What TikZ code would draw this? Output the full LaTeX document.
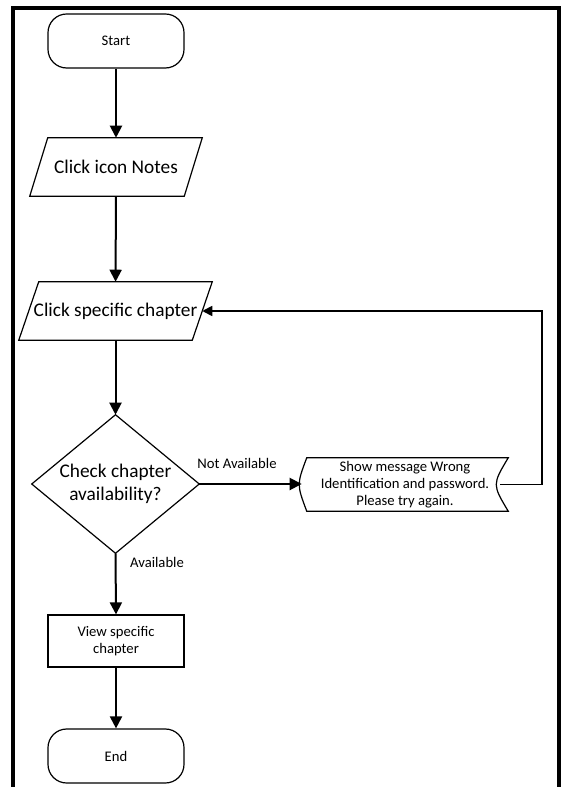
\documentclass[tikz,border=0pt]{standalone}
\usepackage{fontspec}
\setmainfont{Carlito}
\usetikzlibrary{arrows.meta}
\begin{document}
\begin{tikzpicture}[x=0.75pt,y=-0.75pt,
  outline/.style={draw=black, line width=0.9pt},
  box/.style={inner sep=0pt, align=center, font=\fontsize{11}{13}\selectfont},
  bigtext/.style={font=\fontsize{14.5}{17.2}\selectfont},
  terminal/.style={box, outline, rounded corners=14pt, minimum width=102pt, minimum height=40.5pt},
  flow/.style={line width=1.5pt, line join=miter, -{Triangle[length=9pt,width=9pt]}},
  backflow/.style={line width=1.3pt, line join=miter, -{Triangle[length=7.5pt,width=7.5pt]}},
  lbl/.style={font=\fontsize{11}{13}\selectfont, inner sep=0pt},
  ]
\useasboundingbox (0,0) rectangle (561,787);

% page frame, open at the bottom
\draw[line width=3pt, line join=miter] (13,792) -- (13,8.5) -- (559,8.5) -- (559,792);

% terminals
\node[terminal] (start) at (116,41) {Start};
\node[terminal] (end) at (116,756) {End};

% input: click icon Notes
\node[box, bigtext, minimum width=115.5pt, minimum height=43.5pt] (notes) at (116,167) {Click icon Notes};
\draw[outline] ([xshift=-6.75pt]notes.south west) -- ([xshift=6.75pt]notes.north west)
  -- ([xshift=6.75pt]notes.north east) -- ([xshift=-6.75pt]notes.south east) -- cycle;

% input: click specific chapter
\node[box, bigtext, minimum width=129.75pt, minimum height=43.5pt] (chapter) at (115.5,311) {Click specific chapter};
\draw[outline] ([xshift=-7.5pt]chapter.south west) -- ([xshift=7.5pt]chapter.north west)
  -- ([xshift=7.5pt]chapter.north east) -- ([xshift=-7.5pt]chapter.south east) -- cycle;

% decision
\node[box, bigtext, minimum width=125.25pt, minimum height=103.5pt] (check) at (115.5,484) {Check chapter\\availability?};
\draw[outline] (check.north) -- (check.east) -- (check.south) -- (check.west) -- cycle;

% display: error message
\node[box, minimum width=154.5pt, minimum height=39.75pt] (msg) at (405,484.5)
  {Show message Wrong\\Identification and password.\\Please try again.};
\draw[outline] ([xshift=3.75pt]msg.north west) -- (msg.north east)
  .. controls ([xshift=-12pt]msg.east) .. (msg.south east)
  -- ([xshift=3.75pt]msg.south west)
  .. controls ([xshift=-3.75pt]msg.west) .. ([xshift=3.75pt]msg.north west) -- cycle;

% process
\node[box, outline, minimum width=102pt, minimum height=39pt] (view) at (116,641) {View specific\\chapter};

% connectors
\draw[flow] (start) -- (notes);
\draw[flow] (notes) -- (chapter);
\draw[flow] (chapter) -- (check);
\draw[flow] (check.east) -- (check.east -| msg.west);
\draw[flow] (check.south) -- (view.north);
\draw[flow] (view) -- (end);

\coordinate (turn) at (542,311);
\draw[backflow] ([xshift=-6pt]msg.east) -| (turn) -- (chapter.east);

% branch labels
\node[lbl] (na) at (237,463) {Not Available};
\node[lbl] (av) at (157,562) {Available};
\end{tikzpicture}
\end{document}
